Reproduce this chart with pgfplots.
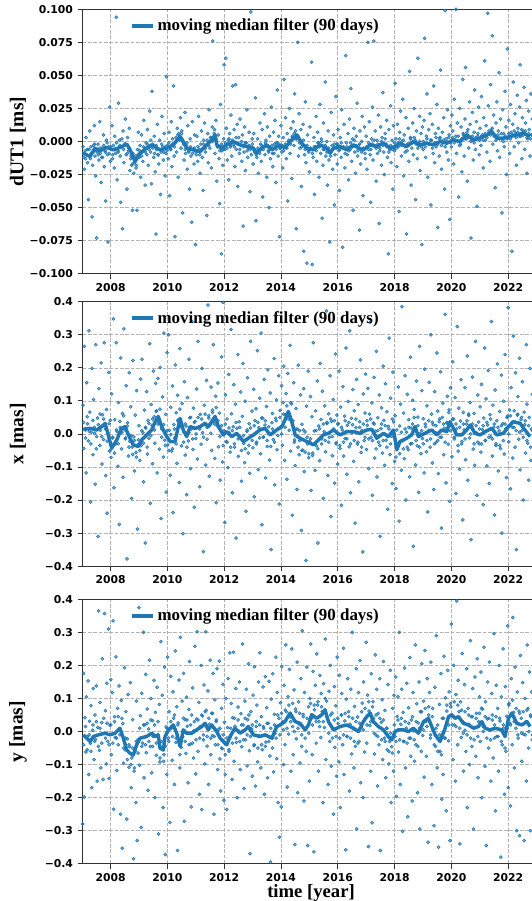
\documentclass[border=0pt]{standalone}
\usepackage{pgfplots}
\pgfplotsset{compat=1.18}
\usepackage{fontspec}
\setmainfont{Liberation Serif}
\newfontfamily\tickfont{DejaVu Sans}
\definecolor{tabblue}{HTML}{1F77B4}
\pgfplotsset{
  panel/.style={
    scale only axis, width=351.2pt, height=198.3pt,
    xmin=2007.014, xmax=2023.5,
    xtick={2008,2010,...,2022}, xticklabels={2008,2010,2012,2014,2016,2018,2020,2022},
    tick pos=left, tick align=outside, major tick length=3.65pt,
    every tick/.style={black!80, line width=0.6pt},
    axis line style={black!80, line width=0.6pt},
    grid=major, major grid style={dash pattern=on 2.8pt off 1.2pt, color=black!30, line width=0.5pt},
    ticklabel style={font=\tickfont\bfseries\fontsize{8.1}{9}\selectfont},
    ylabel style={font=\bfseries\fontsize{14.6}{16}\selectfont, at={(axis description cs:-0.1378,0.5)}, anchor=center},
    legend style={draw=none, fill=none, at={(axis description cs:0.1,0.938)}, anchor=west, font=\bfseries\fontsize{12.7}{14}\selectfont, inner sep=0pt},
    legend image code/.code={\draw[#1, line width=3pt] (0pt,0pt) -- (16pt,0pt);},
    scaled y ticks=false,
  },
  pts/.style={color=tabblue, only marks, mark=*, mark size=1.15pt, mark options={draw=none, fill=tabblue, fill opacity=0.6}, forget plot},
  med/.style={color=tabblue, line width=2.6pt, no marks, line join=round},
}
\begin{document}
\begin{tikzpicture}
% ---------------- panel 1: dUT1 ----------------
\begin{axis}[panel, at={(61.9pt,-6.98pt)}, anchor=north west,
  ymin=-0.1, ymax=0.1, ytick={-0.1,-0.075,-0.05,-0.025,0,0.025,0.05,0.075,0.1},
  yticklabels={−0.100,−0.075,−0.050,−0.025,0.000,0.025,0.050,0.075,0.100},
  ylabel={dUT1 [ms]}]
\addplot[pts] coordinates {
(2007.05,-0.009) (2007.12,-0.013) (2007.18,-0.006) (2007.25,-0.011) (2007.31,-0.004) (2007.38,-0.008) (2007.44,-0.002) (2007.50,-0.007) (2007.57,-0.010) (2007.63,-0.005) (2007.69,-0.012) (2007.76,-0.003) (2007.82,-0.008) (2007.88,-0.001) (2007.95,-0.009)
(2008.01,-0.004) (2008.08,-0.010) (2008.14,-0.006) (2008.21,-0.001) (2008.27,-0.008) (2008.33,-0.003) (2008.40,0.002) (2008.46,-0.006) (2008.53,-0.002) (2008.59,-0.009) (2008.65,-0.005) (2008.72,-0.011) (2008.78,-0.017) (2008.84,-0.013) (2008.91,-0.018) (2008.97,-0.010)
(2009.03,-0.007) (2009.10,-0.011) (2009.16,-0.004) (2009.23,-0.008) (2009.29,-0.002) (2009.35,-0.006) (2009.42,0.001) (2009.48,-0.005) (2009.55,-0.009) (2009.61,-0.003) (2009.67,-0.010) (2009.74,-0.006) (2009.80,-0.002) (2009.87,-0.008) (2009.93,-0.004) (2009.99,-0.007)
(2010.05,-0.001) (2010.12,-0.006) (2010.18,0.002) (2010.25,-0.004) (2010.31,0.000) (2010.37,0.005) (2010.44,0.002) (2010.50,0.006) (2010.57,-0.002) (2010.63,-0.006) (2010.69,-0.001) (2010.76,-0.008) (2010.82,-0.004) (2010.89,-0.009) (2010.95,-0.005)
(2011.01,-0.008) (2011.08,-0.004) (2011.14,-0.010) (2011.21,-0.006) (2011.27,-0.002) (2011.33,-0.005) (2011.40,0.001) (2011.46,-0.003) (2011.53,0.003) (2011.59,0.000) (2011.65,0.006) (2011.72,0.002) (2011.78,-0.004) (2011.85,-0.007) (2011.91,-0.002) (2011.97,-0.006)
(2012.04,-0.001) (2012.10,-0.005) (2012.17,0.002) (2012.23,-0.003) (2012.29,0.001) (2012.36,-0.004) (2012.42,0.003) (2012.49,-0.002) (2012.55,-0.006) (2012.61,0.000) (2012.68,-0.004) (2012.74,-0.001) (2012.81,-0.007) (2012.87,-0.003) (2012.93,-0.006) (2012.99,-0.002)
(2013.06,-0.007) (2013.13,-0.010) (2013.19,-0.005) (2013.25,-0.009) (2013.32,-0.003) (2013.38,-0.006) (2013.45,-0.001) (2013.51,-0.004) (2013.57,-0.008) (2013.64,-0.005) (2013.70,-0.009) (2013.77,-0.002) (2013.83,-0.006) (2013.89,-0.001) (2013.96,-0.005)
(2014.02,-0.003) (2014.09,-0.007) (2014.15,-0.002) (2014.21,-0.005) (2014.28,0.001) (2014.34,-0.002) (2014.41,0.003) (2014.47,0.006) (2014.53,0.002) (2014.60,0.004) (2014.66,-0.001) (2014.73,-0.004) (2014.79,0.001) (2014.85,-0.006) (2014.92,-0.003) (2014.98,-0.008)
(2015.04,-0.005) (2015.11,-0.009) (2015.17,-0.004) (2015.24,-0.007) (2015.30,-0.001) (2015.36,-0.004) (2015.43,0.000) (2015.49,-0.006) (2015.56,-0.003) (2015.62,-0.008) (2015.68,-0.005) (2015.75,-0.011) (2015.81,-0.006) (2015.88,-0.002) (2015.94,-0.005)
(2016.00,-0.002) (2016.07,-0.006) (2016.13,-0.001) (2016.20,-0.005) (2016.26,-0.009) (2016.32,-0.004) (2016.39,-0.007) (2016.45,-0.001) (2016.52,-0.004) (2016.58,0.001) (2016.64,-0.003) (2016.71,-0.007) (2016.77,-0.002) (2016.84,-0.008) (2016.90,-0.005) (2016.96,-0.009)
(2017.03,-0.004) (2017.09,-0.001) (2017.16,-0.006) (2017.22,-0.002) (2017.28,0.001) (2017.35,-0.005) (2017.41,-0.002) (2017.48,-0.007) (2017.54,0.000) (2017.60,-0.003) (2017.67,0.002) (2017.73,-0.004) (2017.80,-0.008) (2017.86,-0.003) (2017.92,-0.006) (2017.99,-0.001)
(2018.05,-0.005) (2018.12,-0.001) (2018.18,0.002) (2018.24,-0.003) (2018.31,0.001) (2018.37,-0.004) (2018.44,-0.007) (2018.50,-0.002) (2018.56,0.002) (2018.63,-0.001) (2018.69,0.003) (2018.76,-0.002) (2018.82,-0.005) (2018.88,0.000) (2018.95,-0.004)
(2019.01,0.000) (2019.08,-0.004) (2019.14,0.002) (2019.20,-0.002) (2019.27,0.001) (2019.33,-0.005) (2019.40,-0.001) (2019.46,0.003) (2019.52,-0.002) (2019.59,0.002) (2019.65,-0.003) (2019.72,0.001) (2019.78,-0.004) (2019.84,0.000) (2019.91,0.003) (2019.97,-0.001)
(2020.04,0.003) (2020.10,-0.001) (2020.16,0.004) (2020.23,0.000) (2020.29,-0.003) (2020.36,0.002) (2020.42,0.005) (2020.48,0.002) (2020.55,0.007) (2020.61,0.003) (2020.68,0.000) (2020.74,0.004) (2020.80,-0.001) (2020.87,0.003) (2020.93,0.006) (2020.99,0.001)
(2021.06,0.004) (2021.12,0.001) (2021.19,0.006) (2021.25,0.003) (2021.32,0.008) (2021.38,0.005) (2021.44,0.010) (2021.51,0.004) (2021.57,0.001) (2021.64,0.005) (2021.70,0.002) (2021.76,0.006) (2021.83,0.000) (2021.89,0.004) (2021.96,0.002)
(2022.02,0.006) (2022.08,0.002) (2022.15,0.005) (2022.21,0.008) (2022.28,0.003) (2022.34,0.007) (2022.40,0.004) (2022.47,0.009) (2022.53,0.005) (2022.60,0.008) (2022.66,0.003) (2022.72,0.006) (2022.79,0.002) (2022.85,0.005)
};
\addplot[pts] coordinates {
(2007.03,-0.004) (2007.06,-0.012) (2007.08,-0.021) (2007.11,-0.007) (2007.14,0.003) (2007.16,-0.010) (2007.19,-0.016) (2007.22,-0.044) (2007.24,-0.006) (2007.27,0.008) (2007.29,-0.013) (2007.32,-0.009) (2007.35,-0.057) (2007.37,-0.018) (2007.40,-0.003) (2007.43,0.012) (2007.45,-0.011) (2007.48,-0.026) (2007.51,-0.073) (2007.53,-0.008) (2007.56,-0.002) (2007.59,-0.014) (2007.62,0.015) (2007.64,-0.009) (2007.67,-0.031) (2007.70,-0.005) (2007.72,-0.012) (2007.75,0.005) (2007.78,-0.019) (2007.80,-0.007) (2007.83,-0.045) (2007.86,0.001) (2007.89,-0.010) (2007.91,-0.076) (2007.94,-0.004) (2007.97,0.026) (2007.99,-0.015)
(2008.02,-0.006) (2008.05,0.012) (2008.07,-0.013) (2008.10,-0.003) (2008.13,-0.020) (2008.15,0.004) (2008.18,-0.009) (2008.20,0.094) (2008.23,-0.029) (2008.26,-0.007) (2008.28,0.029) (2008.31,0.001) (2008.34,-0.011) (2008.36,-0.046) (2008.39,-0.004) (2008.42,-0.066) (2008.44,0.008) (2008.47,-0.016) (2008.50,-0.002) (2008.52,0.017) (2008.55,-0.010) (2008.58,-0.036) (2008.60,0.003) (2008.63,-0.007) (2008.66,0.010) (2008.68,-0.022) (2008.71,-0.013) (2008.74,-0.018) (2008.77,-0.052) (2008.79,-0.009) (2008.82,-0.024) (2008.85,-0.016) (2008.87,-0.011) (2008.90,-0.020) (2008.93,-0.052) (2008.95,-0.006) (2008.98,0.007)
(2009.01,-0.012) (2009.04,-0.003) (2009.06,-0.027) (2009.09,0.005) (2009.12,-0.008) (2009.14,-0.015) (2009.17,0.016) (2009.20,-0.005) (2009.22,-0.033) (2009.25,-0.001) (2009.28,-0.010) (2009.30,0.009) (2009.33,-0.018) (2009.36,-0.004) (2009.38,0.023) (2009.41,-0.008) (2009.44,-0.032) (2009.46,0.038) (2009.49,-0.002) (2009.52,-0.012) (2009.54,0.004) (2009.57,-0.023) (2009.60,-0.070) (2009.62,-0.006) (2009.65,0.013) (2009.68,-0.010) (2009.70,-0.017) (2009.73,0.001) (2009.76,-0.040) (2009.78,-0.008) (2009.81,0.019) (2009.84,-0.004) (2009.86,-0.014) (2009.89,0.006) (2009.92,-0.026) (2009.95,-0.009) (2009.97,0.049)
(2010.00,-0.003) (2010.03,-0.013) (2010.06,0.007) (2010.08,-0.041) (2010.11,-0.006) (2010.14,0.015) (2010.16,-0.019) (2010.19,-0.002) (2010.22,0.042) (2010.24,-0.011) (2010.27,-0.072) (2010.30,0.003) (2010.32,-0.008) (2010.35,0.010) (2010.38,-0.027) (2010.40,0.006) (2010.43,0.001) (2010.46,0.018) (2010.48,-0.005) (2010.51,0.008) (2010.54,-0.054) (2010.56,-0.001) (2010.59,-0.014) (2010.62,0.022) (2010.64,-0.009) (2010.67,-0.003) (2010.70,-0.021) (2010.72,0.012) (2010.75,-0.007) (2010.78,-0.036) (2010.80,0.002) (2010.83,-0.011) (2010.86,-0.061) (2010.88,0.015) (2010.91,-0.006) (2010.94,-0.017) (2010.96,0.005) (2010.99,-0.078)
(2011.02,-0.010) (2011.04,0.004) (2011.07,-0.015) (2011.10,0.019) (2011.12,-0.006) (2011.15,-0.024) (2011.18,-0.002) (2011.20,0.008) (2011.23,-0.012) (2011.26,-0.037) (2011.28,0.001) (2011.31,0.014) (2011.34,-0.008) (2011.36,-0.003) (2011.39,-0.056) (2011.42,0.006) (2011.44,-0.016) (2011.47,0.024) (2011.50,-0.005) (2011.52,0.003) (2011.55,-0.020) (2011.58,0.011) (2011.60,0.076) (2011.63,0.001) (2011.66,0.009) (2011.68,-0.009) (2011.71,0.016) (2011.74,-0.030) (2011.76,-0.004) (2011.79,0.005) (2011.82,-0.013) (2011.84,-0.047) (2011.87,0.028) (2011.90,-0.085) (2011.92,-0.007) (2011.95,-0.018) (2011.98,0.002)
(2012.00,0.058) (2012.03,-0.006) (2012.06,0.063) (2012.08,0.010) (2012.11,-0.014) (2012.14,0.001) (2012.16,-0.029) (2012.19,0.006) (2012.22,-0.004) (2012.24,0.020) (2012.27,-0.011) (2012.30,0.042) (2012.32,-0.002) (2012.35,0.009) (2012.38,-0.019) (2012.40,0.043) (2012.43,-0.006) (2012.46,0.013) (2012.48,-0.034) (2012.51,0.003) (2012.54,-0.009) (2012.56,0.017) (2012.59,-0.003) (2012.62,-0.015) (2012.64,0.005) (2012.67,-0.064) (2012.70,-0.008) (2012.72,0.011) (2012.75,-0.022) (2012.78,-0.001) (2012.80,0.024) (2012.83,-0.012) (2012.86,-0.005) (2012.88,0.007) (2012.91,-0.038) (2012.94,0.098) (2012.96,-0.010) (2012.99,0.002)
(2013.02,-0.017) (2013.04,0.006) (2013.07,-0.008) (2013.10,0.033) (2013.12,-0.060) (2013.15,-0.012) (2013.18,0.002) (2013.20,-0.024) (2013.23,-0.006) (2013.26,0.014) (2013.28,-0.002) (2013.31,-0.015) (2013.34,0.009) (2013.36,-0.042) (2013.39,-0.004) (2013.42,0.021) (2013.44,-0.010) (2013.47,0.001) (2013.50,-0.027) (2013.52,0.011) (2013.55,-0.007) (2013.58,-0.050) (2013.60,0.004) (2013.63,-0.013) (2013.66,0.026) (2013.68,-0.003) (2013.71,-0.019) (2013.74,0.007) (2013.76,-0.009) (2013.79,0.016) (2013.82,-0.031) (2013.84,-0.001) (2013.87,0.039) (2013.90,-0.011) (2013.92,0.004) (2013.95,-0.072) (2013.98,-0.005)
(2014.00,0.012) (2014.03,-0.008) (2014.06,-0.020) (2014.08,0.003) (2014.11,0.047) (2014.14,-0.004) (2014.16,0.018) (2014.19,-0.013) (2014.22,0.006) (2014.24,-0.045) (2014.27,0.000) (2014.30,0.025) (2014.32,-0.009) (2014.35,0.010) (2014.38,-0.028) (2014.40,0.004) (2014.43,0.015) (2014.46,-0.003) (2014.48,0.036) (2014.51,0.008) (2014.54,-0.066) (2014.56,0.002) (2014.59,0.075) (2014.62,-0.011) (2014.64,0.021) (2014.67,-0.005) (2014.70,0.009) (2014.72,-0.034) (2014.75,-0.002) (2014.78,0.013) (2014.80,-0.083) (2014.83,-0.010) (2014.86,0.030) (2014.88,-0.016) (2014.91,-0.092) (2014.94,0.005) (2014.96,-0.007)
(2015.00,-0.023) (2015.02,0.011) (2015.05,-0.006) (2015.08,0.060) (2015.10,-0.093) (2015.13,-0.012) (2015.16,0.003) (2015.18,-0.040) (2015.21,-0.004) (2015.24,0.019) (2015.26,-0.015) (2015.29,0.007) (2015.32,-0.001) (2015.34,-0.027) (2015.37,0.028) (2015.40,-0.009) (2015.42,0.002) (2015.45,-0.058) (2015.48,-0.018) (2015.50,0.014) (2015.53,-0.006) (2015.56,0.045) (2015.58,-0.011) (2015.61,0.000) (2015.64,-0.033) (2015.66,0.008) (2015.69,-0.014) (2015.72,-0.076) (2015.74,-0.008) (2015.77,0.022) (2015.80,-0.003) (2015.82,-0.021) (2015.85,0.005) (2015.88,-0.048) (2015.90,-0.010) (2015.93,0.034) (2015.96,-0.002) (2015.98,-0.017)
(2016.01,0.009) (2016.04,-0.007) (2016.06,-0.037) (2016.09,0.003) (2016.12,-0.012) (2016.14,0.024) (2016.17,-0.080) (2016.20,-0.004) (2016.22,0.013) (2016.25,-0.020) (2016.28,0.065) (2016.30,-0.001) (2016.33,-0.010) (2016.36,0.006) (2016.38,-0.029) (2016.41,0.017) (2016.44,-0.006) (2016.46,0.040) (2016.49,-0.015) (2016.52,0.002) (2016.54,-0.052) (2016.57,0.010) (2016.60,-0.008) (2016.62,-0.024) (2016.65,0.004) (2016.68,0.029) (2016.70,-0.011) (2016.73,-0.003) (2016.76,-0.067) (2016.78,0.008) (2016.81,-0.017) (2016.84,0.000) (2016.86,0.019) (2016.89,-0.041) (2016.92,-0.006) (2016.94,0.011) (2016.97,-0.013)
(2017.00,0.004) (2017.03,-0.021) (2017.06,0.075) (2017.08,-0.006) (2017.11,0.015) (2017.14,-0.010) (2017.16,-0.046) (2017.19,0.002) (2017.22,0.026) (2017.24,-0.014) (2017.27,0.076) (2017.30,-0.003) (2017.32,0.008) (2017.35,-0.030) (2017.38,0.001) (2017.40,-0.009) (2017.43,0.020) (2017.46,-0.062) (2017.48,-0.005) (2017.51,0.011) (2017.54,-0.018) (2017.56,0.003) (2017.59,0.037) (2017.62,-0.008) (2017.64,-0.025) (2017.67,0.006) (2017.70,-0.002) (2017.72,0.016) (2017.75,-0.012) (2017.78,-0.085) (2017.80,0.009) (2017.83,-0.006) (2017.86,0.027) (2017.88,-0.016) (2017.91,0.001) (2017.94,-0.036) (2017.96,0.012)
(2018.00,-0.007) (2018.02,0.044) (2018.05,0.002) (2018.08,-0.019) (2018.10,0.013) (2018.13,-0.004) (2018.16,-0.053) (2018.18,0.007) (2018.21,0.023) (2018.24,-0.011) (2018.26,0.000) (2018.29,0.032) (2018.32,-0.026) (2018.34,0.005) (2018.37,-0.008) (2018.40,0.018) (2018.42,-0.070) (2018.45,-0.002) (2018.48,0.010) (2018.50,-0.015) (2018.53,0.053) (2018.56,0.003) (2018.58,-0.033) (2018.61,-0.005) (2018.64,0.014) (2018.66,-0.010) (2018.69,0.025) (2018.72,0.001) (2018.74,-0.044) (2018.77,0.008) (2018.80,-0.013) (2018.82,0.063) (2018.85,-0.003) (2018.88,0.019) (2018.90,-0.022) (2018.93,0.006) (2018.96,-0.078) (2018.98,0.011)
(2019.01,-0.006) (2019.04,0.016) (2019.06,0.078) (2019.09,-0.012) (2019.12,0.004) (2019.14,0.036) (2019.17,-0.027) (2019.20,0.009) (2019.22,-0.002) (2019.25,0.021) (2019.28,-0.048) (2019.30,0.001) (2019.33,0.013) (2019.36,-0.009) (2019.38,0.042) (2019.41,-0.016) (2019.44,0.006) (2019.46,-0.004) (2019.49,0.028) (2019.52,-0.065) (2019.54,0.010) (2019.57,-0.011) (2019.60,0.003) (2019.62,0.054) (2019.65,-0.021) (2019.68,0.007) (2019.70,-0.001) (2019.73,0.018) (2019.76,-0.036) (2019.78,0.099) (2019.81,0.002) (2019.84,-0.008) (2019.86,0.024) (2019.89,-0.014) (2019.92,0.005) (2019.94,-0.059) (2019.97,0.012)
(2020.00,-0.004) (2020.02,0.020) (2020.05,0.008) (2020.08,-0.017) (2020.10,0.032) (2020.13,0.001) (2020.16,0.100) (2020.18,-0.009) (2020.21,0.014) (2020.24,0.004) (2020.26,-0.042) (2020.29,0.025) (2020.32,-0.002) (2020.34,0.011) (2020.37,-0.023) (2020.40,0.047) (2020.42,0.006) (2020.45,-0.011) (2020.48,0.017) (2020.50,0.056) (2020.53,0.002) (2020.56,-0.030) (2020.58,0.009) (2020.61,-0.005) (2020.64,0.030) (2020.66,0.013) (2020.69,-0.073) (2020.72,0.001) (2020.74,0.022) (2020.77,-0.014) (2020.80,0.007) (2020.82,0.039) (2020.85,-0.006) (2020.88,0.015) (2020.90,-0.049) (2020.93,0.004) (2020.96,0.026) (2020.98,-0.010)
(2021.01,0.010) (2021.04,-0.003) (2021.06,0.034) (2021.09,0.005) (2021.12,-0.020) (2021.14,0.018) (2021.17,0.061) (2021.20,0.001) (2021.22,0.012) (2021.25,-0.008) (2021.28,0.097) (2021.30,0.027) (2021.33,0.006) (2021.36,-0.015) (2021.38,0.043) (2021.41,0.009) (2021.44,0.080) (2021.46,-0.002) (2021.49,0.020) (2021.52,0.004) (2021.54,-0.035) (2021.57,0.014) (2021.60,0.030) (2021.62,-0.007) (2021.65,0.008) (2021.68,0.052) (2021.70,-0.012) (2021.73,0.017) (2021.76,0.002) (2021.78,-0.054) (2021.81,0.024) (2021.84,0.006) (2021.86,-0.004) (2021.89,0.038) (2021.92,0.011) (2021.94,-0.025) (2021.97,0.070)
(2022.00,0.003) (2022.02,0.016) (2022.05,-0.009) (2022.08,0.028) (2022.10,0.007) (2022.13,-0.083) (2022.16,0.013) (2022.18,0.045) (2022.21,-0.004) (2022.24,0.021) (2022.26,0.006) (2022.29,-0.018) (2022.32,0.035) (2022.34,0.010) (2022.37,-0.001) (2022.40,0.026) (2022.42,0.058) (2022.45,0.004) (2022.48,-0.013) (2022.50,0.018) (2022.53,0.008) (2022.56,0.041) (2022.58,-0.006) (2022.61,0.014) (2022.64,0.031) (2022.66,-0.024) (2022.69,0.002) (2022.72,0.023) (2022.74,0.009) (2022.77,-0.011) (2022.80,0.036) (2022.82,0.005) (2022.85,0.017)
};
\addplot[med] coordinates {
(2007.04,-0.0088) (2007.28,-0.0113) (2007.45,-0.0050) (2007.63,-0.0070) (2007.86,-0.0045) (2008.10,-0.0063) (2008.33,-0.0045) (2008.57,-0.0020) (2008.69,-0.0063) (2008.86,-0.0151) (2009.04,-0.0088) (2009.27,-0.0050) (2009.45,-0.0025) (2009.74,-0.0063) (2009.98,-0.0050) (2010.21,-0.0025) (2010.45,0.0038) (2010.56,0.0000) (2010.68,-0.0050) (2010.92,-0.0063) (2011.15,-0.0076) (2011.39,-0.0025) (2011.56,0.0013) (2011.68,0.0050) (2011.74,-0.0025) (2011.91,-0.0050) (2012.09,-0.0025) (2012.32,0.0000) (2012.56,-0.0025) (2012.80,-0.0038) (2013.03,-0.0050) (2013.15,-0.0088) (2013.32,-0.0050) (2013.50,-0.0025) (2013.68,-0.0063) (2013.85,-0.0038) (2013.97,-0.0025) (2014.14,-0.0050) (2014.32,0.0000) (2014.56,0.0050) (2014.73,-0.0013) (2014.91,-0.0050) (2015.14,-0.0063) (2015.38,-0.0025) (2015.61,-0.0050) (2015.73,-0.0088) (2015.85,-0.0050) (2016.08,-0.0038) (2016.32,-0.0063) (2016.55,-0.0025) (2016.73,-0.0050) (2016.90,-0.0063) (2017.14,-0.0025) (2017.37,-0.0038) (2017.61,-0.0013) (2017.84,-0.0050) (2018.02,-0.0038) (2018.19,-0.0013) (2018.43,-0.0038) (2018.66,0.0000) (2018.90,-0.0025) (2019.13,-0.0013) (2019.37,-0.0025) (2019.60,0.0000) (2019.84,-0.0013) (2020.07,0.0013) (2020.31,0.0000) (2020.54,0.0050) (2020.78,0.0013) (2021.01,0.0025) (2021.25,0.0050) (2021.42,0.0076) (2021.60,0.0025) (2021.83,0.0025) (2022.07,0.0038) (2022.30,0.0050) (2022.54,0.0063) (2022.77,0.0038)
};
\addlegendentry{moving median filter (90 days)}
\end{axis}
% ---------------- panel 2: x ----------------
\begin{axis}[panel, at={(61.9pt,-226.3pt)}, anchor=north west,
  ymin=-0.4, ymax=0.4, ytick={-0.4,-0.3,...,0.4},
  yticklabels={−0.4,−0.3,−0.2,−0.1,0.0,0.1,0.2,0.3,0.4},
  ylabel={x [mas]}]
\addplot[pts] coordinates {
(2007.05,0.035) (2007.12,-0.012) (2007.18,0.052) (2007.25,0.008) (2007.31,-0.030) (2007.38,0.041) (2007.44,0.002) (2007.50,-0.045) (2007.57,0.028) (2007.63,0.060) (2007.69,-0.008) (2007.76,0.045) (2007.82,0.015) (2007.88,-0.022) (2007.95,0.031)
(2008.01,-0.048) (2008.08,-0.010) (2008.14,-0.058) (2008.21,0.012) (2008.27,-0.030) (2008.33,0.038) (2008.40,0.005) (2008.46,0.055) (2008.53,-0.012) (2008.59,0.024) (2008.65,-0.040) (2008.72,-0.005) (2008.78,-0.062) (2008.84,-0.020) (2008.91,-0.070) (2008.97,-0.032)
(2009.03,-0.050) (2009.10,0.010) (2009.16,-0.028) (2009.23,0.020) (2009.29,-0.040) (2009.35,0.032) (2009.42,-0.005) (2009.48,0.045) (2009.55,0.012) (2009.61,0.068) (2009.67,0.030) (2009.74,0.075) (2009.80,-0.010) (2009.87,0.028) (2009.93,-0.035) (2009.99,0.010)
(2010.05,-0.050) (2010.12,-0.002) (2010.18,-0.045) (2010.25,0.015) (2010.31,-0.030) (2010.37,0.040) (2010.44,0.075) (2010.50,0.020) (2010.57,-0.025) (2010.63,0.030) (2010.69,-0.040) (2010.76,0.005) (2010.82,0.050) (2010.89,-0.015) (2010.95,0.035)
(2011.01,0.000) (2011.08,0.050) (2011.14,0.015) (2011.21,0.045) (2011.27,-0.010) (2011.33,0.060) (2011.40,0.020) (2011.46,0.048) (2011.53,0.002) (2011.59,0.065) (2011.65,0.030) (2011.72,0.080) (2011.78,0.040) (2011.85,-0.008) (2011.91,0.025) (2011.97,-0.035)
(2012.04,0.030) (2012.10,-0.025) (2012.17,0.018) (2012.23,-0.040) (2012.29,0.010) (2012.36,-0.030) (2012.42,0.035) (2012.49,-0.015) (2012.55,0.020) (2012.61,-0.050) (2012.68,-0.005) (2012.74,-0.045) (2012.81,0.012) (2012.87,-0.035) (2012.93,0.018) (2012.99,-0.020)
(2013.06,0.025) (2013.13,-0.030) (2013.19,0.035) (2013.25,-0.012) (2013.32,0.048) (2013.38,-0.010) (2013.45,0.040) (2013.51,-0.020) (2013.57,0.022) (2013.64,-0.038) (2013.70,0.015) (2013.77,-0.025) (2013.83,0.040) (2013.89,-0.005) (2013.96,0.050)
(2014.02,0.000) (2014.09,0.060) (2014.15,0.020) (2014.21,0.085) (2014.28,0.045) (2014.34,0.095) (2014.41,0.030) (2014.47,-0.025) (2014.53,0.015) (2014.60,-0.040) (2014.66,0.010) (2014.73,-0.050) (2014.79,0.012) (2014.85,-0.055) (2014.92,-0.010) (2014.98,-0.060)
(2015.04,-0.015) (2015.11,-0.065) (2015.17,-0.030) (2015.24,0.010) (2015.30,-0.045) (2015.36,0.015) (2015.43,-0.030) (2015.49,0.030) (2015.56,-0.020) (2015.62,0.035) (2015.68,-0.025) (2015.75,0.045) (2015.81,-0.008) (2015.88,0.040) (2015.94,-0.030)
(2016.00,0.030) (2016.07,-0.035) (2016.13,0.020) (2016.20,-0.025) (2016.26,0.040) (2016.32,-0.015) (2016.39,0.035) (2016.45,-0.030) (2016.52,0.028) (2016.58,-0.020) (2016.64,0.045) (2016.71,-0.025) (2016.77,0.020) (2016.84,-0.040) (2016.90,0.030) (2016.96,-0.010)
(2017.03,0.040) (2017.09,-0.015) (2017.16,0.045) (2017.22,-0.020) (2017.28,0.030) (2017.35,-0.045) (2017.41,0.010) (2017.48,-0.035) (2017.54,0.030) (2017.60,-0.020) (2017.67,0.025) (2017.73,-0.040) (2017.80,0.015) (2017.86,-0.030) (2017.92,0.045) (2017.99,-0.010)
(2018.05,-0.070) (2018.12,-0.030) (2018.18,-0.060) (2018.24,0.005) (2018.31,-0.045) (2018.37,0.015) (2018.44,-0.040) (2018.50,0.020) (2018.56,-0.030) (2018.63,0.030) (2018.69,0.050) (2018.76,-0.020) (2018.82,0.025) (2018.88,-0.040) (2018.95,0.010)
(2019.01,-0.030) (2019.08,0.030) (2019.14,-0.020) (2019.20,0.040) (2019.27,-0.015) (2019.33,0.035) (2019.40,-0.030) (2019.46,0.025) (2019.52,-0.020) (2019.59,0.045) (2019.65,-0.010) (2019.72,0.030) (2019.78,-0.025) (2019.84,0.035) (2019.91,0.065) (2019.97,0.010)
(2020.04,0.045) (2020.10,-0.010) (2020.16,0.030) (2020.23,-0.035) (2020.29,0.020) (2020.36,-0.030) (2020.42,0.030) (2020.48,-0.015) (2020.55,0.040) (2020.61,0.060) (2020.68,0.000) (2020.74,0.030) (2020.80,-0.030) (2020.87,0.025) (2020.93,-0.025) (2020.99,0.015)
(2021.06,-0.030) (2021.12,0.025) (2021.19,-0.020) (2021.25,0.035) (2021.32,-0.010) (2021.38,0.045) (2021.44,-0.015) (2021.51,0.030) (2021.57,-0.030) (2021.64,0.020) (2021.70,-0.035) (2021.76,0.025) (2021.83,-0.020) (2021.89,0.030) (2021.96,0.050)
(2022.02,0.000) (2022.08,0.055) (2022.15,0.020) (2022.21,0.070) (2022.28,0.010) (2022.34,0.060) (2022.40,0.005) (2022.47,0.050) (2022.53,-0.010) (2022.60,0.040) (2022.66,-0.020) (2022.72,0.025) (2022.79,-0.040) (2022.85,0.010)
};
\addplot[pts] coordinates {
(2007.03,0.087) (2007.06,-0.044) (2007.08,0.265) (2007.11,0.012) (2007.14,-0.118) (2007.16,0.155) (2007.19,0.031) (2007.22,-0.021) (2007.24,0.312) (2007.27,0.066) (2007.30,-0.206) (2007.32,0.005) (2007.35,0.198) (2007.38,-0.063) (2007.40,0.104) (2007.43,0.020) (2007.46,-0.152) (2007.48,0.270) (2007.51,-0.008) (2007.54,0.048) (2007.56,-0.310) (2007.59,0.137) (2007.62,-0.035) (2007.64,0.011) (2007.67,0.215) (2007.70,-0.091) (2007.72,0.058) (2007.75,-0.017) (2007.78,0.276) (2007.80,0.029) (2007.83,-0.126) (2007.86,0.074) (2007.88,-0.240) (2007.91,0.003) (2007.94,0.186) (2007.96,-0.052) (2007.99,0.041)
(2008.02,-0.071) (2008.04,0.121) (2008.07,-0.012) (2008.10,0.348) (2008.12,-0.163) (2008.15,0.043) (2008.18,-0.030) (2008.20,0.276) (2008.23,0.007) (2008.26,-0.098) (2008.28,0.095) (2008.31,-0.274) (2008.34,0.019) (2008.36,0.230) (2008.39,-0.045) (2008.42,0.062) (2008.44,-0.131) (2008.47,0.318) (2008.50,0.013) (2008.52,-0.015) (2008.55,0.146) (2008.58,-0.378) (2008.60,0.034) (2008.63,-0.067) (2008.66,0.185) (2008.68,-0.022) (2008.71,0.082) (2008.74,-0.195) (2008.76,-0.040) (2008.79,0.222) (2008.82,-0.009) (2008.84,-0.112) (2008.87,0.057) (2008.90,-0.056) (2008.92,0.131) (2008.95,-0.288) (2008.98,-0.018)
(2009.00,0.025) (2009.03,-0.080) (2009.06,0.166) (2009.08,-0.035) (2009.11,0.226) (2009.14,0.004) (2009.16,-0.145) (2009.19,0.072) (2009.22,-0.330) (2009.24,0.018) (2009.27,0.128) (2009.30,-0.061) (2009.32,0.041) (2009.35,-0.013) (2009.38,0.273) (2009.40,-0.210) (2009.43,0.089) (2009.46,0.026) (2009.48,-0.090) (2009.51,0.190) (2009.54,0.052) (2009.56,-0.028) (2009.59,0.153) (2009.62,0.070) (2009.64,-0.118) (2009.67,0.168) (2009.70,0.036) (2009.72,-0.046) (2009.75,0.201) (2009.78,-0.256) (2009.80,0.015) (2009.83,0.112) (2009.86,-0.070) (2009.88,0.305) (2009.91,-0.019) (2009.94,0.059) (2009.96,-0.176) (2009.99,0.246)
(2010.02,-0.033) (2010.04,0.300) (2010.07,0.011) (2010.10,-0.125) (2010.12,0.081) (2010.15,-0.052) (2010.18,0.145) (2010.20,-0.238) (2010.23,0.028) (2010.26,-0.012) (2010.28,0.209) (2010.31,0.064) (2010.34,-0.089) (2010.36,0.117) (2010.39,0.043) (2010.42,-0.147) (2010.44,0.258) (2010.47,0.030) (2010.50,-0.036) (2010.52,0.092) (2010.55,-0.302) (2010.58,0.006) (2010.60,0.158) (2010.63,-0.064) (2010.66,0.024) (2010.68,-0.184) (2010.71,0.110) (2010.74,-0.021) (2010.76,0.226) (2010.79,0.049) (2010.82,-0.105) (2010.84,0.015) (2010.87,0.340) (2010.90,-0.047) (2010.92,0.078) (2010.95,-0.222) (2010.98,0.038)
(2011.00,-0.014) (2011.03,0.136) (2011.06,-0.076) (2011.08,0.280) (2011.11,0.021) (2011.14,-0.160) (2011.16,0.059) (2011.19,-0.031) (2011.22,0.198) (2011.24,0.004) (2011.27,-0.356) (2011.30,0.087) (2011.32,0.032) (2011.35,-0.094) (2011.38,0.162) (2011.40,-0.016) (2011.43,0.390) (2011.46,0.055) (2011.48,-0.128) (2011.51,0.028) (2011.54,0.142) (2011.56,-0.050) (2011.59,0.072) (2011.62,0.270) (2011.64,0.038) (2011.67,-0.074) (2011.70,0.114) (2011.72,-0.208) (2011.75,0.025) (2011.78,0.154) (2011.80,-0.039) (2011.83,0.063) (2011.86,-0.140) (2011.88,0.012) (2011.91,0.233) (2011.94,-0.085) (2011.96,0.398)
(2012.00,0.010) (2012.02,-0.268) (2012.05,0.118) (2012.08,-0.023) (2012.10,0.045) (2012.13,-0.102) (2012.16,0.180) (2012.18,0.003) (2012.21,-0.055) (2012.24,0.316) (2012.26,0.061) (2012.29,-0.178) (2012.32,0.022) (2012.34,0.149) (2012.37,-0.040) (2012.40,0.090) (2012.42,-0.315) (2012.45,0.017) (2012.48,0.240) (2012.50,-0.068) (2012.53,0.037) (2012.56,-0.011) (2012.58,0.127) (2012.61,-0.143) (2012.64,0.053) (2012.66,0.213) (2012.69,-0.029) (2012.72,-0.087) (2012.74,0.099) (2012.77,-0.234) (2012.80,0.008) (2012.82,0.170) (2012.85,-0.058) (2012.88,0.031) (2012.90,-0.119) (2012.93,0.280) (2012.96,-0.006) (2012.98,0.069)
(2013.01,-0.042) (2013.04,0.135) (2013.06,-0.190) (2013.09,0.040) (2013.12,0.076) (2013.14,-0.025) (2013.17,0.252) (2013.20,-0.108) (2013.22,0.019) (2013.25,0.108) (2013.28,-0.060) (2013.30,0.305) (2013.33,-0.275) (2013.36,0.048) (2013.38,-0.009) (2013.41,0.165) (2013.44,0.027) (2013.46,-0.133) (2013.49,0.083) (2013.52,-0.038) (2013.54,0.194) (2013.57,0.002) (2013.60,-0.079) (2013.62,0.124) (2013.65,-0.350) (2013.68,0.034) (2013.70,0.062) (2013.73,-0.017) (2013.76,0.228) (2013.78,-0.154) (2013.81,0.047) (2013.84,0.103) (2013.86,-0.048) (2013.89,0.016) (2013.92,0.176) (2013.94,-0.212) (2013.97,0.071)
(2014.00,0.022) (2014.02,0.146) (2014.05,-0.034) (2014.08,0.095) (2014.10,0.205) (2014.13,-0.080) (2014.16,0.058) (2014.18,0.122) (2014.21,-0.137) (2014.24,0.183) (2014.26,0.066) (2014.29,0.011) (2014.32,0.268) (2014.34,-0.052) (2014.37,0.091) (2014.40,-0.246) (2014.42,0.040) (2014.45,0.155) (2014.48,-0.018) (2014.50,-0.096) (2014.53,0.077) (2014.56,-0.168) (2014.58,0.014) (2014.61,0.208) (2014.64,-0.063) (2014.66,-0.020) (2014.69,0.118) (2014.72,-0.292) (2014.74,0.029) (2014.77,-0.049) (2014.80,0.137) (2014.82,-0.114) (2014.85,0.006) (2014.88,-0.383) (2014.90,0.084) (2014.93,-0.030) (2014.96,0.190) (2014.98,-0.072)
(2015.01,-0.023) (2015.04,0.113) (2015.06,-0.171) (2015.09,0.052) (2015.12,-0.058) (2015.14,0.276) (2015.17,0.009) (2015.20,-0.110) (2015.22,0.070) (2015.25,-0.036) (2015.28,0.160) (2015.30,-0.330) (2015.33,0.024) (2015.36,-0.081) (2015.38,0.213) (2015.41,0.044) (2015.44,-0.015) (2015.46,0.129) (2015.49,-0.195) (2015.52,0.007) (2015.54,0.085) (2015.57,-0.054) (2015.60,0.372) (2015.62,0.031) (2015.65,-0.126) (2015.68,0.061) (2015.70,-0.010) (2015.73,0.176) (2015.76,-0.250) (2015.78,0.038) (2015.81,-0.066) (2015.84,0.104) (2015.86,0.015) (2015.89,-0.149) (2015.92,0.242) (2015.94,-0.027) (2015.97,0.057)
(2016.00,-0.091) (2016.02,0.031) (2016.05,0.190) (2016.08,-0.044) (2016.10,0.081) (2016.13,-0.216) (2016.16,0.012) (2016.18,0.143) (2016.21,-0.067) (2016.24,0.054) (2016.26,-0.014) (2016.29,0.260) (2016.32,-0.122) (2016.34,0.026) (2016.37,0.098) (2016.40,-0.039) (2016.42,0.312) (2016.45,-0.178) (2016.48,0.047) (2016.50,0.004) (2016.53,0.134) (2016.56,-0.083) (2016.58,0.070) (2016.61,-0.270) (2016.64,0.019) (2016.66,0.165) (2016.69,-0.031) (2016.72,0.089) (2016.74,-0.145) (2016.77,0.037) (2016.80,0.224) (2016.82,-0.056) (2016.85,0.010) (2016.88,-0.357) (2016.90,0.121) (2016.93,-0.020) (2016.96,0.063) (2016.98,0.181)
(2017.01,-0.047) (2017.04,0.026) (2017.06,0.138) (2017.09,-0.105) (2017.12,0.060) (2017.14,0.338) (2017.17,-0.010) (2017.20,0.094) (2017.22,-0.186) (2017.25,0.033) (2017.28,0.171) (2017.30,-0.073) (2017.33,0.008) (2017.36,0.250) (2017.38,-0.130) (2017.41,0.049) (2017.44,-0.025) (2017.46,0.118) (2017.49,-0.310) (2017.52,0.016) (2017.54,0.079) (2017.57,-0.058) (2017.60,0.205) (2017.62,0.041) (2017.65,-0.095) (2017.68,0.152) (2017.70,-0.019) (2017.73,0.067) (2017.76,-0.228) (2017.78,0.023) (2017.81,0.290) (2017.84,-0.062) (2017.86,0.108) (2017.89,-0.007) (2017.92,-0.150) (2017.94,0.187) (2017.97,0.036)
(2018.00,-0.083) (2018.02,0.055) (2018.05,-0.165) (2018.08,0.012) (2018.10,-0.043) (2018.13,0.142) (2018.16,-0.264) (2018.18,0.024) (2018.21,0.090) (2018.24,-0.110) (2018.26,0.385) (2018.29,-0.021) (2018.32,0.063) (2018.34,-0.075) (2018.37,0.176) (2018.40,-0.200) (2018.42,0.005) (2018.45,0.120) (2018.48,-0.048) (2018.50,0.043) (2018.53,-0.130) (2018.56,0.232) (2018.58,0.018) (2018.61,-0.029) (2018.64,0.102) (2018.66,-0.340) (2018.69,0.074) (2018.72,0.010) (2018.74,-0.094) (2018.77,0.160) (2018.80,-0.036) (2018.82,0.051) (2018.85,-0.177) (2018.88,0.265) (2018.90,0.001) (2018.93,-0.060) (2018.96,0.131) (2018.98,-0.014)
(2019.01,0.046) (2019.04,-0.118) (2019.06,0.196) (2019.09,0.022) (2019.12,-0.054) (2019.14,0.085) (2019.17,-0.236) (2019.20,0.011) (2019.22,0.156) (2019.25,-0.040) (2019.28,0.300) (2019.30,0.060) (2019.33,-0.088) (2019.36,0.028) (2019.38,-0.168) (2019.41,0.128) (2019.44,0.004) (2019.46,-0.026) (2019.49,0.245) (2019.52,0.069) (2019.54,-0.120) (2019.57,0.037) (2019.60,-0.010) (2019.62,0.188) (2019.65,-0.285) (2019.68,0.050) (2019.70,0.093) (2019.73,-0.063) (2019.76,0.017) (2019.78,0.362) (2019.81,-0.148) (2019.84,0.033) (2019.86,0.114) (2019.89,-0.031) (2019.92,0.073) (2019.94,-0.204) (2019.97,0.140)
(2020.00,0.026) (2020.02,-0.069) (2020.05,0.218) (2020.08,0.045) (2020.10,-0.015) (2020.13,0.110) (2020.16,-0.180) (2020.18,0.015) (2020.21,0.325) (2020.24,-0.052) (2020.26,0.078) (2020.29,-0.107) (2020.32,0.039) (2020.34,0.164) (2020.37,-0.023) (2020.40,-0.260) (2020.42,0.065) (2020.45,0.012) (2020.48,0.140) (2020.50,-0.078) (2020.53,0.030) (2020.56,0.236) (2020.58,-0.140) (2020.61,0.056) (2020.64,-0.012) (2020.66,0.095) (2020.69,-0.320) (2020.72,0.021) (2020.74,0.172) (2020.77,-0.046) (2020.80,0.062) (2020.82,-0.095) (2020.85,0.280) (2020.88,0.004) (2020.90,-0.186) (2020.93,0.118) (2020.96,0.036) (2020.98,-0.030)
(2021.01,0.082) (2021.04,-0.055) (2021.06,0.150) (2021.09,0.013) (2021.12,-0.214) (2021.14,0.048) (2021.17,0.260) (2021.20,-0.020) (2021.22,0.106) (2021.25,-0.097) (2021.28,0.027) (2021.30,0.192) (2021.33,-0.150) (2021.36,0.058) (2021.38,-0.008) (2021.41,0.340) (2021.44,-0.067) (2021.46,0.087) (2021.49,0.020) (2021.52,-0.245) (2021.54,0.133) (2021.57,-0.035) (2021.60,0.040) (2021.62,0.212) (2021.65,-0.112) (2021.68,0.009) (2021.70,0.068) (2021.73,-0.044) (2021.76,0.178) (2021.78,-0.300) (2021.81,0.031) (2021.84,0.099) (2021.86,-0.061) (2021.89,0.240) (2021.92,0.016) (2021.94,-0.132) (2021.97,0.054)
(2022.00,0.382) (2022.02,-0.024) (2022.05,0.072) (2022.08,-0.166) (2022.10,0.140) (2022.13,0.035) (2022.16,-0.073) (2022.18,0.296) (2022.21,0.020) (2022.24,-0.040) (2022.26,0.185) (2022.29,-0.350) (2022.32,0.057) (2022.34,0.113) (2022.37,-0.016) (2022.40,0.229) (2022.42,-0.109) (2022.45,0.043) (2022.48,0.010) (2022.50,0.158) (2022.53,-0.200) (2022.56,0.066) (2022.58,0.028) (2022.61,-0.058) (2022.64,0.270) (2022.66,0.090) (2022.69,-0.028) (2022.72,-0.140) (2022.74,0.050) (2022.77,0.198) (2022.80,-0.080) (2022.82,0.015) (2022.85,0.120)
};
\addplot[med] coordinates {
(2007.04,0.014) (2007.28,0.017) (2007.51,0.012) (2007.69,0.022) (2007.81,0.032) (2007.92,-0.003) (2008.04,-0.043) (2008.22,-0.018) (2008.39,0.017) (2008.51,0.022) (2008.63,-0.003) (2008.80,-0.033) (2008.98,-0.038) (2009.10,-0.018) (2009.27,-0.003) (2009.45,0.012) (2009.57,0.037) (2009.68,0.053) (2009.80,0.022) (2009.98,-0.008) (2010.10,-0.023) (2010.27,-0.023) (2010.45,0.047) (2010.56,0.012) (2010.68,-0.008) (2010.80,0.022) (2010.98,0.017) (2011.15,0.022) (2011.33,0.032) (2011.44,0.022) (2011.56,0.037) (2011.68,0.053) (2011.80,0.022) (2011.97,-0.003) (2012.09,0.007) (2012.27,-0.008) (2012.44,0.002) (2012.68,-0.023) (2012.85,-0.013) (2013.03,-0.003) (2013.26,0.012) (2013.44,0.017) (2013.62,-0.003) (2013.85,0.012) (2014.03,0.022) (2014.14,0.042) (2014.26,0.068) (2014.38,0.037) (2014.50,-0.003) (2014.67,-0.013) (2014.91,-0.023) (2015.14,-0.033) (2015.32,-0.018) (2015.49,-0.003) (2015.67,0.002) (2015.85,0.012) (2016.08,-0.003) (2016.32,0.007) (2016.55,0.007) (2016.78,0.002) (2017.02,0.012) (2017.20,0.014) (2017.37,-0.013) (2017.61,0.002) (2017.78,-0.008) (2017.96,0.012) (2018.08,-0.048) (2018.19,-0.023) (2018.43,-0.013) (2018.60,-0.003) (2018.72,0.022) (2018.84,-0.008) (2019.07,0.002) (2019.31,0.012) (2019.48,-0.003) (2019.66,0.012) (2019.84,0.007) (2019.95,0.037) (2020.07,0.017) (2020.19,-0.003) (2020.36,-0.003) (2020.54,0.012) (2020.66,0.027) (2020.83,0.002) (2021.01,-0.003) (2021.19,0.007) (2021.42,0.017) (2021.60,-0.003) (2021.83,0.002) (2022.01,0.022) (2022.18,0.037) (2022.42,0.032) (2022.59,0.012) (2022.77,-0.008)
};
\addlegendentry{moving median filter (90 days)}
\end{axis}
% ---------------- panel 3: y ----------------
\begin{axis}[panel, at={(61.9pt,-449.5pt)}, anchor=north west,
  ymin=-0.4, ymax=0.4, ytick={-0.4,-0.3,...,0.4},
  yticklabels={−0.4,−0.3,−0.2,−0.1,0.0,0.1,0.2,0.3,0.4},
  ylabel={y [mas]}, xlabel={time [year]},
  xlabel style={font=\bfseries\fontsize{14}{16}\selectfont, at={(axis description cs:0.488,0)}, anchor=base, yshift=-25.1pt}]
\addplot[pts] coordinates {
(2007.05,-0.040) (2007.12,0.015) (2007.18,-0.055) (2007.25,-0.010) (2007.31,-0.060) (2007.38,0.020) (2007.44,-0.030) (2007.50,0.030) (2007.57,-0.045) (2007.63,0.010) (2007.69,-0.035) (2007.76,0.040) (2007.82,-0.020) (2007.88,0.025) (2007.95,-0.040)
(2008.01,0.020) (2008.08,-0.035) (2008.14,0.030) (2008.21,-0.020) (2008.27,0.045) (2008.33,-0.010) (2008.40,0.040) (2008.46,-0.050) (2008.53,-0.020) (2008.59,-0.085) (2008.65,-0.040) (2008.72,-0.100) (2008.78,-0.050) (2008.84,-0.110) (2008.91,-0.030) (2008.97,-0.065)
(2009.03,0.010) (2009.10,-0.045) (2009.16,0.020) (2009.23,-0.040) (2009.29,0.025) (2009.35,-0.030) (2009.42,0.035) (2009.48,-0.045) (2009.55,0.020) (2009.61,-0.035) (2009.67,0.030) (2009.74,-0.080) (2009.80,-0.030) (2009.87,-0.090) (2009.93,-0.045) (2009.99,0.010)
(2010.05,-0.030) (2010.12,0.030) (2010.18,-0.015) (2010.25,0.050) (2010.31,-0.020) (2010.37,0.020) (2010.44,-0.070) (2010.50,-0.020) (2010.57,0.040) (2010.63,-0.030) (2010.69,0.035) (2010.76,-0.040) (2010.82,0.020) (2010.89,-0.035) (2010.95,0.030)
(2011.01,-0.025) (2011.08,0.035) (2011.14,-0.020) (2011.21,0.050) (2011.27,-0.010) (2011.33,0.060) (2011.40,-0.015) (2011.46,0.040) (2011.53,-0.020) (2011.59,0.055) (2011.65,-0.015) (2011.72,0.030) (2011.78,-0.040) (2011.85,0.010) (2011.91,-0.050) (2011.97,-0.010)
(2012.04,-0.070) (2012.10,-0.020) (2012.17,-0.055) (2012.23,0.010) (2012.29,-0.035) (2012.36,0.040) (2012.42,-0.020) (2012.49,0.035) (2012.55,-0.030) (2012.61,0.020) (2012.68,-0.025) (2012.74,0.040) (2012.81,-0.010) (2012.87,0.050) (2012.93,-0.015) (2012.99,0.020)
(2013.06,-0.040) (2013.13,0.015) (2013.19,-0.050) (2013.25,0.020) (2013.32,-0.040) (2013.38,0.015) (2013.45,-0.045) (2013.51,0.025) (2013.57,-0.030) (2013.64,0.010) (2013.70,-0.050) (2013.77,0.020) (2013.83,-0.020) (2013.89,0.050) (2013.96,-0.010)
(2014.02,0.055) (2014.09,0.005) (2014.15,0.065) (2014.21,0.010) (2014.28,0.080) (2014.34,0.030) (2014.41,0.085) (2014.47,0.000) (2014.53,0.060) (2014.60,0.010) (2014.66,0.055) (2014.73,-0.010) (2014.79,0.045) (2014.85,-0.020) (2014.92,0.040) (2014.98,-0.005)
(2015.04,0.085) (2015.11,0.020) (2015.17,0.080) (2015.24,0.030) (2015.30,0.090) (2015.36,0.015) (2015.43,0.075) (2015.49,0.030) (2015.56,0.100) (2015.62,0.045) (2015.68,-0.005) (2015.75,0.050) (2015.81,-0.020) (2015.88,0.035) (2015.94,-0.015)
(2016.00,0.040) (2016.07,-0.020) (2016.13,0.050) (2016.20,-0.010) (2016.26,0.055) (2016.32,-0.015) (2016.39,0.045) (2016.45,-0.020) (2016.52,0.040) (2016.58,-0.030) (2016.64,0.030) (2016.71,-0.035) (2016.77,0.025) (2016.84,0.060) (2016.90,0.005) (2016.96,0.070)
(2017.03,0.020) (2017.09,0.090) (2017.16,0.030) (2017.22,0.075) (2017.28,-0.005) (2017.35,0.050) (2017.41,-0.015) (2017.48,0.040) (2017.54,-0.025) (2017.60,0.035) (2017.67,-0.030) (2017.73,0.010) (2017.80,-0.060) (2017.86,-0.005) (2017.92,-0.065) (2017.99,0.020)
(2018.05,-0.030) (2018.12,0.035) (2018.18,-0.025) (2018.24,0.040) (2018.31,-0.030) (2018.37,0.030) (2018.44,-0.035) (2018.50,0.025) (2018.56,-0.020) (2018.63,0.045) (2018.69,-0.025) (2018.76,0.030) (2018.82,-0.045) (2018.88,0.010) (2018.95,0.060)
(2019.01,0.005) (2019.08,0.070) (2019.14,0.015) (2019.20,0.075) (2019.27,-0.010) (2019.33,0.045) (2019.40,-0.040) (2019.46,0.010) (2019.52,-0.060) (2019.59,-0.010) (2019.65,-0.070) (2019.72,0.040) (2019.78,-0.020) (2019.84,0.080) (2019.91,0.020) (2019.97,0.085)
(2020.04,0.020) (2020.10,0.090) (2020.16,0.015) (2020.23,0.080) (2020.29,0.010) (2020.36,0.065) (2020.42,-0.005) (2020.48,0.060) (2020.55,-0.010) (2020.61,0.050) (2020.68,-0.020) (2020.74,0.045) (2020.80,-0.025) (2020.87,0.040) (2020.93,-0.015) (2020.99,0.055)
(2021.06,0.070) (2021.12,0.000) (2021.19,0.045) (2021.25,-0.020) (2021.32,0.040) (2021.38,-0.025) (2021.44,0.035) (2021.51,-0.020) (2021.57,0.045) (2021.64,-0.015) (2021.70,0.040) (2021.76,-0.030) (2021.83,0.020) (2021.89,-0.050) (2021.96,0.010)
(2022.02,0.080) (2022.08,0.020) (2022.15,0.095) (2022.21,0.030) (2022.28,0.070) (2022.34,-0.010) (2022.40,0.055) (2022.47,-0.005) (2022.53,0.060) (2022.60,-0.010) (2022.66,0.065) (2022.72,0.000) (2022.79,0.050) (2022.85,-0.010)
};
\addplot[pts] coordinates {
(2007.02,-0.280) (2007.05,0.176) (2007.07,-0.198) (2007.10,0.042) (2007.13,-0.062) (2007.15,0.105) (2007.18,-0.015) (2007.21,0.153) (2007.23,-0.130) (2007.26,0.031) (2007.29,-0.036) (2007.31,0.078) (2007.34,-0.170) (2007.37,0.004) (2007.39,0.130) (2007.42,-0.085) (2007.45,0.050) (2007.47,-0.024) (2007.50,0.138) (2007.53,-0.150) (2007.55,0.012) (2007.58,0.365) (2007.61,-0.057) (2007.63,0.088) (2007.66,-0.110) (2007.69,0.027) (2007.71,0.220) (2007.74,-0.145) (2007.77,-0.006) (2007.79,0.357) (2007.82,0.063) (2007.85,-0.098) (2007.87,0.146) (2007.90,-0.030) (2007.93,0.310) (2007.95,-0.142) (2007.98,0.019)
(2008.01,0.157) (2008.03,-0.070) (2008.06,0.118) (2008.09,0.335) (2008.11,-0.235) (2008.14,0.045) (2008.17,-0.018) (2008.19,0.226) (2008.22,-0.118) (2008.25,0.070) (2008.27,-0.040) (2008.30,0.138) (2008.33,0.005) (2008.35,-0.250) (2008.38,0.094) (2008.41,-0.353) (2008.43,0.024) (2008.46,-0.096) (2008.49,0.193) (2008.51,-0.055) (2008.54,0.060) (2008.57,-0.265) (2008.59,-0.022) (2008.62,0.112) (2008.65,-0.108) (2008.67,-0.046) (2008.70,0.148) (2008.73,-0.170) (2008.75,-0.080) (2008.78,0.036) (2008.81,-0.385) (2008.83,-0.120) (2008.86,-0.060) (2008.89,-0.215) (2008.91,0.092) (2008.94,-0.330) (2008.97,-0.025)
(2009.00,0.375) (2009.02,-0.102) (2009.05,0.048) (2009.08,-0.290) (2009.10,0.116) (2009.13,-0.035) (2009.16,0.300) (2009.18,-0.140) (2009.21,0.020) (2009.24,0.173) (2009.26,-0.064) (2009.29,0.068) (2009.32,-0.178) (2009.34,0.008) (2009.37,0.216) (2009.40,-0.045) (2009.42,0.100) (2009.45,-0.125) (2009.48,0.033) (2009.50,-0.015) (2009.53,0.155) (2009.56,-0.200) (2009.58,0.058) (2009.61,-0.072) (2009.64,0.134) (2009.66,-0.010) (2009.69,-0.310) (2009.72,0.082) (2009.74,-0.092) (2009.77,0.272) (2009.80,-0.050) (2009.82,0.110) (2009.85,-0.230) (2009.88,-0.070) (2009.90,0.195) (2009.93,-0.372) (2009.96,0.014) (2009.98,-0.130)
(2010.01,0.225) (2010.04,-0.020) (2010.06,0.060) (2010.09,-0.275) (2010.12,0.167) (2010.14,0.010) (2010.17,-0.087) (2010.20,0.120) (2010.22,0.040) (2010.25,-0.160) (2010.28,0.244) (2010.30,-0.033) (2010.33,0.075) (2010.36,-0.360) (2010.38,0.026) (2010.41,0.156) (2010.44,-0.110) (2010.46,0.285) (2010.49,-0.048) (2010.52,0.092) (2010.54,-0.016) (2010.57,0.176) (2010.60,-0.272) (2010.62,0.036) (2010.65,-0.066) (2010.68,0.104) (2010.70,0.016) (2010.73,-0.155) (2010.76,0.067) (2010.78,0.212) (2010.81,-0.038) (2010.84,-0.228) (2010.86,0.050) (2010.89,0.132) (2010.92,-0.080) (2010.94,0.003) (2010.97,0.258)
(2011.00,-0.128) (2011.03,0.038) (2011.05,0.302) (2011.08,-0.060) (2011.11,0.088) (2011.13,-0.190) (2011.16,0.015) (2011.19,0.200) (2011.21,-0.236) (2011.24,0.047) (2011.27,-0.025) (2011.29,0.141) (2011.32,-0.098) (2011.35,0.302) (2011.37,0.064) (2011.40,-0.044) (2011.43,0.123) (2011.45,-0.160) (2011.48,0.022) (2011.51,0.216) (2011.53,-0.070) (2011.56,0.055) (2011.59,-0.012) (2011.61,0.176) (2011.64,-0.250) (2011.67,0.096) (2011.69,-0.040) (2011.72,0.035) (2011.75,0.190) (2011.77,-0.115) (2011.80,0.006) (2011.83,0.213) (2011.85,-0.083) (2011.88,-0.180) (2011.91,0.070) (2011.93,-0.052) (2011.96,0.143) (2011.99,-0.208)
(2012.01,0.028) (2012.04,-0.130) (2012.06,0.100) (2012.09,-0.236) (2012.12,0.012) (2012.14,0.160) (2012.17,-0.060) (2012.20,0.238) (2012.22,-0.017) (2012.25,0.085) (2012.28,-0.145) (2012.30,0.042) (2012.33,0.240) (2012.35,-0.090) (2012.38,0.016) (2012.41,0.130) (2012.43,-0.033) (2012.46,-0.200) (2012.49,0.074) (2012.51,0.002) (2012.54,0.150) (2012.57,-0.115) (2012.59,0.054) (2012.62,-0.046) (2012.65,0.265) (2012.67,0.020) (2012.70,-0.172) (2012.73,0.092) (2012.75,-0.025) (2012.78,0.128) (2012.81,-0.104) (2012.83,0.036) (2012.86,0.205) (2012.89,-0.058) (2012.91,-0.370) (2012.94,0.060) (2012.97,0.008) (2012.99,-0.135)
(2013.02,0.110) (2013.05,-0.043) (2013.07,0.196) (2013.10,-0.165) (2013.13,0.030) (2013.15,0.080) (2013.18,-0.092) (2013.21,0.150) (2013.23,-0.012) (2013.26,0.238) (2013.29,-0.110) (2013.31,0.045) (2013.34,-0.055) (2013.37,0.135) (2013.39,0.010) (2013.42,-0.190) (2013.45,0.166) (2013.47,-0.032) (2013.50,0.072) (2013.53,-0.140) (2013.55,0.025) (2013.58,0.152) (2013.61,-0.074) (2013.63,-0.395) (2013.66,0.098) (2013.69,-0.020) (2013.71,0.175) (2013.74,-0.122) (2013.77,0.052) (2013.79,-0.006) (2013.82,0.225) (2013.85,-0.082) (2013.87,0.118) (2013.90,-0.215) (2013.93,0.040) (2013.95,-0.320) (2013.98,0.087)
(2014.01,-0.228) (2014.03,0.196) (2014.06,0.030) (2014.09,-0.100) (2014.11,0.140) (2014.14,-0.040) (2014.17,0.262) (2014.19,0.060) (2014.22,-0.168) (2014.25,0.105) (2014.27,-0.008) (2014.30,0.188) (2014.33,0.044) (2014.35,-0.120) (2014.38,0.250) (2014.41,0.015) (2014.43,-0.070) (2014.46,0.126) (2014.49,-0.342) (2014.51,0.068) (2014.54,-0.022) (2014.57,0.210) (2014.59,-0.185) (2014.62,0.090) (2014.65,0.022) (2014.67,-0.095) (2014.70,0.160) (2014.73,-0.045) (2014.75,0.305) (2014.78,0.052) (2014.81,-0.210) (2014.83,0.118) (2014.86,0.010) (2014.89,-0.060) (2014.91,0.195) (2014.94,-0.345) (2014.97,0.075)
(2015.00,-0.150) (2015.02,0.100) (2015.05,0.265) (2015.08,0.040) (2015.10,-0.070) (2015.13,0.182) (2015.16,-0.364) (2015.18,0.066) (2015.21,0.140) (2015.24,-0.035) (2015.26,0.235) (2015.29,0.080) (2015.32,-0.120) (2015.34,0.030) (2015.37,0.170) (2015.40,-0.018) (2015.42,0.115) (2015.45,0.060) (2015.48,-0.215) (2015.50,0.145) (2015.53,0.012) (2015.56,0.280) (2015.58,-0.085) (2015.61,0.092) (2015.64,0.038) (2015.66,-0.160) (2015.69,0.122) (2015.72,-0.030) (2015.74,0.200) (2015.77,-0.105) (2015.80,0.056) (2015.82,0.010) (2015.85,-0.250) (2015.88,0.136) (2015.90,-0.048) (2015.93,0.078) (2015.96,-0.135) (2015.98,0.225)
(2016.01,0.024) (2016.04,-0.092) (2016.06,0.170) (2016.09,-0.230) (2016.12,0.050) (2016.14,0.115) (2016.17,-0.040) (2016.20,0.252) (2016.22,-0.130) (2016.25,0.032) (2016.28,-0.358) (2016.30,0.098) (2016.33,-0.015) (2016.35,0.160) (2016.38,0.060) (2016.41,-0.180) (2016.43,0.022) (2016.46,0.128) (2016.49,-0.068) (2016.51,0.300) (2016.54,0.008) (2016.57,-0.110) (2016.59,0.076) (2016.62,-0.045) (2016.65,0.190) (2016.67,-0.295) (2016.70,0.044) (2016.73,0.118) (2016.75,-0.030) (2016.78,0.215) (2016.81,-0.155) (2016.83,0.012) (2016.86,0.086) (2016.89,-0.200) (2016.91,0.150) (2016.94,-0.062) (2016.97,0.040)
(2017.00,0.270) (2017.02,-0.035) (2017.05,0.110) (2017.08,-0.348) (2017.10,0.062) (2017.13,0.018) (2017.16,-0.120) (2017.18,0.175) (2017.21,-0.276) (2017.24,0.090) (2017.26,0.040) (2017.29,-0.068) (2017.32,0.232) (2017.34,-0.010) (2017.37,0.128) (2017.40,-0.165) (2017.42,0.055) (2017.45,-0.040) (2017.48,0.160) (2017.50,-0.360) (2017.53,0.028) (2017.56,0.096) (2017.58,-0.085) (2017.61,0.212) (2017.64,-0.020) (2017.66,0.064) (2017.69,-0.140) (2017.72,0.010) (2017.74,-0.055) (2017.77,0.142) (2017.80,-0.098) (2017.82,-0.030) (2017.85,0.185) (2017.88,-0.215) (2017.90,-0.046) (2017.93,0.070) (2017.96,-0.120) (2017.98,0.110)
(2018.01,-0.015) (2018.04,0.165) (2018.06,-0.196) (2018.09,0.046) (2018.12,0.105) (2018.14,-0.062) (2018.17,0.300) (2018.20,-0.160) (2018.22,0.022) (2018.25,0.128) (2018.28,-0.302) (2018.30,0.058) (2018.33,-0.030) (2018.35,0.192) (2018.38,-0.110) (2018.41,0.010) (2018.43,0.146) (2018.46,-0.258) (2018.49,0.072) (2018.51,-0.020) (2018.54,0.224) (2018.57,-0.075) (2018.59,0.035) (2018.62,-0.210) (2018.65,0.118) (2018.67,0.002) (2018.70,-0.090) (2018.73,0.262) (2018.75,-0.040) (2018.78,0.084) (2018.81,-0.185) (2018.83,0.026) (2018.86,0.150) (2018.89,-0.295) (2018.91,0.060) (2018.94,-0.060) (2018.96,0.205) (2018.99,-0.012)
(2019.02,0.092) (2019.04,-0.138) (2019.07,0.245) (2019.10,0.030) (2019.12,-0.075) (2019.15,0.160) (2019.18,-0.335) (2019.20,0.050) (2019.23,0.118) (2019.26,-0.020) (2019.28,0.210) (2019.31,-0.160) (2019.34,0.070) (2019.36,0.005) (2019.39,-0.285) (2019.42,0.134) (2019.44,-0.045) (2019.47,0.290) (2019.50,-0.110) (2019.52,0.020) (2019.55,-0.350) (2019.58,0.082) (2019.60,-0.060) (2019.63,0.175) (2019.66,-0.205) (2019.68,0.040) (2019.71,-0.130) (2019.74,0.228) (2019.76,-0.020) (2019.79,0.102) (2019.82,-0.240) (2019.84,0.062) (2019.87,0.185) (2019.90,-0.028) (2019.92,0.120) (2019.95,-0.330) (2019.98,0.075)
(2020.00,0.325) (2020.03,0.048) (2020.06,-0.085) (2020.08,0.200) (2020.11,0.020) (2020.14,-0.150) (2020.16,0.112) (2020.19,0.395) (2020.22,-0.040) (2020.24,0.155) (2020.27,0.060) (2020.30,-0.340) (2020.32,0.090) (2020.35,-0.018) (2020.38,0.236) (2020.40,0.030) (2020.43,-0.120) (2020.46,0.142) (2020.48,0.004) (2020.51,-0.060) (2020.54,0.190) (2020.56,-0.230) (2020.59,0.070) (2020.62,0.022) (2020.64,-0.100) (2020.67,0.275) (2020.70,0.045) (2020.72,-0.045) (2020.75,0.130) (2020.78,-0.295) (2020.80,0.012) (2020.83,0.165) (2020.86,-0.075) (2020.88,0.055) (2020.91,0.220) (2020.94,-0.140) (2020.96,0.030) (2020.99,0.105)
(2021.02,-0.030) (2021.04,0.180) (2021.07,-0.200) (2021.10,0.068) (2021.12,0.015) (2021.15,0.255) (2021.18,-0.105) (2021.20,0.090) (2021.23,-0.345) (2021.26,0.038) (2021.28,0.150) (2021.31,-0.050) (2021.34,0.210) (2021.36,0.004) (2021.39,-0.150) (2021.42,0.115) (2021.44,0.050) (2021.47,-0.080) (2021.50,0.296) (2021.52,0.020) (2021.55,-0.240) (2021.58,0.140) (2021.60,-0.015) (2021.63,0.070) (2021.66,-0.120) (2021.68,0.200) (2021.71,0.032) (2021.74,-0.380) (2021.76,0.105) (2021.79,-0.040) (2021.82,0.250) (2021.84,0.010) (2021.87,-0.190) (2021.90,0.136) (2021.92,-0.060) (2021.95,0.046) (2021.98,0.320)
(2022.00,-0.170) (2022.03,0.085) (2022.06,0.025) (2022.08,-0.225) (2022.11,0.160) (2022.14,-0.040) (2022.16,0.345) (2022.19,0.058) (2022.22,-0.110) (2022.24,0.195) (2022.27,0.010) (2022.30,-0.300) (2022.32,0.120) (2022.35,-0.020) (2022.38,0.062) (2022.40,-0.315) (2022.43,0.230) (2022.46,0.040) (2022.48,-0.090) (2022.51,0.148) (2022.54,-0.008) (2022.56,-0.330) (2022.59,0.100) (2022.62,0.030) (2022.64,-0.150) (2022.67,0.262) (2022.70,0.070) (2022.72,-0.050) (2022.75,0.180) (2022.78,-0.300) (2022.80,0.045) (2022.83,0.120) (2022.85,-0.025)
};
\addplot[med] coordinates {
(2007.04,-0.010) (2007.16,-0.020) (2007.28,-0.030) (2007.40,-0.015) (2007.57,-0.010) (2007.81,-0.005) (2007.98,-0.010) (2008.16,-0.005) (2008.33,0.010) (2008.45,-0.020) (2008.57,-0.056) (2008.69,-0.066) (2008.80,-0.071) (2008.92,-0.040) (2009.04,-0.020) (2009.27,-0.015) (2009.45,-0.005) (2009.57,-0.015) (2009.68,-0.010) (2009.74,-0.050) (2009.86,-0.056) (2009.92,-0.015) (2010.04,0.005) (2010.21,0.020) (2010.33,-0.005) (2010.45,-0.045) (2010.56,0.005) (2010.68,-0.005) (2010.86,-0.005) (2011.03,0.005) (2011.21,0.015) (2011.33,0.025) (2011.44,0.005) (2011.56,0.020) (2011.74,0.000) (2011.86,-0.020) (2011.97,-0.030) (2012.09,-0.040) (2012.21,-0.015) (2012.38,0.010) (2012.56,-0.005) (2012.74,0.005) (2012.85,0.015) (2013.03,-0.010) (2013.26,-0.015) (2013.44,-0.010) (2013.68,-0.020) (2013.85,0.015) (2013.97,0.020) (2014.14,0.030) (2014.32,0.056) (2014.50,0.030) (2014.67,0.025) (2014.85,0.005) (2014.97,0.020) (2015.08,0.051) (2015.26,0.040) (2015.44,0.051) (2015.55,0.066) (2015.67,0.030) (2015.85,0.005) (2016.08,0.015) (2016.32,0.020) (2016.55,0.010) (2016.73,0.000) (2016.90,0.030) (2017.02,0.045) (2017.14,0.056) (2017.25,0.030) (2017.43,0.015) (2017.61,0.005) (2017.78,-0.015) (2017.90,-0.025) (2018.02,0.000) (2018.13,0.005) (2018.31,0.005) (2018.49,0.000) (2018.66,0.010) (2018.84,-0.005) (2019.02,0.030) (2019.19,0.040) (2019.31,0.015) (2019.43,-0.010) (2019.60,-0.030) (2019.78,0.010) (2019.90,0.045) (2020.01,0.051) (2020.13,0.040) (2020.25,0.045) (2020.42,0.025) (2020.60,0.020) (2020.78,0.010) (2020.95,0.015) (2021.07,0.030) (2021.19,0.010) (2021.36,0.005) (2021.54,0.010) (2021.77,0.005) (2021.89,-0.015) (2022.01,0.040) (2022.13,0.056) (2022.30,0.025) (2022.48,0.020) (2022.66,0.030) (2022.77,0.015)
};
\addlegendentry{moving median filter (90 days)}
\end{axis}
\pgfresetboundingbox
\useasboundingbox (0pt,0pt) rectangle (399pt,-675.75pt);
\end{tikzpicture}
\end{document}
